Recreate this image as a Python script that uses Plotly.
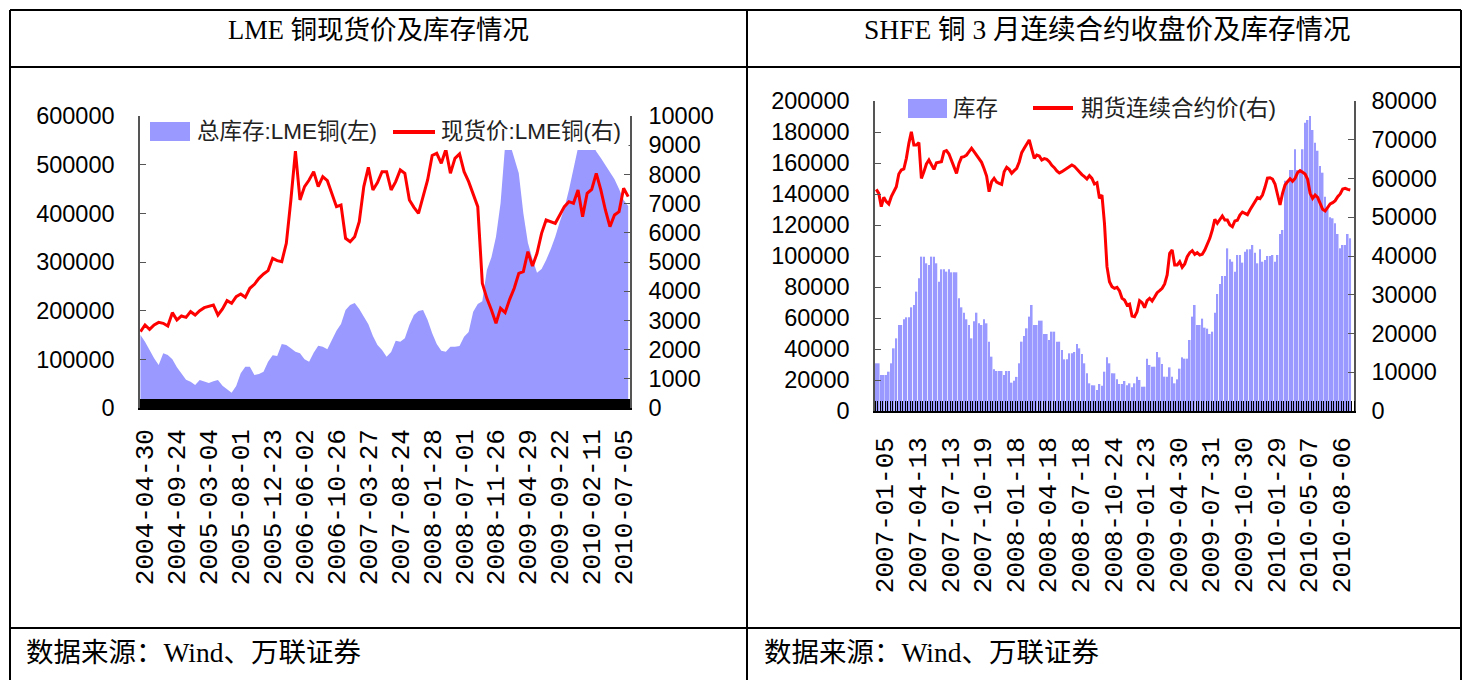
import plotly.graph_objects as go

# ---------------- data ----------------
# Left chart: LME copper, sampled every ~3 weeks; a date label every 7 samples
lme_labels = ['2004-04-30', '2004-09-24', '2005-03-04', '2005-08-01', '2005-12-23',
              '2006-06-02', '2006-10-26', '2007-03-27', '2007-08-24', '2008-01-28',
              '2008-07-01', '2008-11-26', '2009-04-29', '2009-09-22', '2010-02-11',
              '2010-07-05']
lme_stock = [150000, 136300, 119200, 102100, 88400, 112400, 108900, 100000, 83600, 69900,
             58200, 54100, 47300, 57500, 54100, 51400, 54800, 57500, 45900, 39000,
             31500, 45000, 71200, 84900, 84900, 67800, 69900, 74700, 95200, 108200,
             106900, 131500, 129500, 122600, 115800, 112400, 100000, 95200, 113700, 128100,
             126100, 120600, 141100, 158900, 172600, 201400, 211700, 215800, 203400, 186300,
             171900, 148000, 129500, 119200, 105500, 115100, 138400, 136300, 143200, 170600,
             191100, 199300, 201400, 180800, 153400, 131500, 117800, 115800, 126100, 126100,
             127400, 146600, 156200, 198000, 213700, 219200, 283600, 309600, 352100, 420600,
             540000, 545000, 513100, 482300, 400100, 339800, 306200, 278100, 285600, 304100,
             326100, 352100, 382900, 410300, 448000, 492500, 535000, 550000, 555000, 545000,
             526800, 513800, 498700, 485000, 469900, 450000, 427400, 415100]
lme_price = [2614, 2843, 2694, 2843, 2934, 2900, 2808, 3265, 3014, 3151,
             3105, 3299, 3185, 3333, 3436, 3470, 3528, 3185, 3391, 3676,
             3585, 3813, 3905, 3790, 4099, 4236, 4441, 4590, 4704, 5126,
             5046, 5012, 5640, 7124, 8800, 7124, 7581, 7809, 8095, 7581,
             7923, 7786, 7352, 6896, 6953, 5811, 5697, 5868, 6382, 7581,
             8243, 7467, 7718, 8095, 8095, 7467, 7752, 8152, 8037, 7124,
             6873, 6668, 7238, 7809, 8650, 8722, 8380, 8850, 8037, 8551,
             8700, 8095, 7752, 7329, 6896, 4270, 3756, 3357, 2900, 3413,
             3265, 3722, 4099, 4612, 4669, 5355, 4864, 5297, 5982, 6439,
             6382, 6325, 6610, 6896, 7067, 7010, 7467, 6553, 7352, 7489,
             8037, 7467, 6782, 6211, 6610, 6725, 7524, 7238]

# Right chart: SHFE copper, weekly; a date label every 13 weeks
shfe_labels = ['2007-01-05', '2007-04-13', '2007-07-13', '2007-10-19', '2008-01-18',
               '2008-04-18', '2008-07-18', '2008-10-24', '2009-01-23', '2009-04-30',
               '2009-07-31', '2009-10-30', '2010-01-29', '2010-05-07', '2010-08-06']
shfe_stock = [30760, 30760, 23230, 23230, 23230, 25370, 30760, 40430, 46880, 55490,
              55490, 59150, 60440, 60440, 66890, 68390, 77000, 85600, 99580, 99580,
              95280, 94200, 99580, 99580, 95280, 83440, 91410, 91410, 89900, 91410,
              89470, 89470, 89470, 72700, 66890, 63430, 59150, 55490, 46880, 57850,
              63430, 56560, 55490, 59150, 56560, 44730, 35050, 26880, 25810, 25810,
              25810, 23230, 25810, 25810, 18280, 19570, 22000, 30760, 44730, 48390,
              53340, 60870, 68390, 55490, 55490, 58290, 58290, 49680, 49680, 45810,
              51180, 51180, 44730, 44730, 39350, 33330, 33330, 37200, 37200, 38060,
              43220, 40430, 36770, 30760, 24300, 17850, 16560, 16560, 13550, 17420,
              16350, 25370, 34620, 30760, 24300, 24300, 20430, 17420, 17420, 19350,
              16560, 17850, 15270, 17850, 22160, 20000, 15700, 15700, 33760, 29680,
              28600, 28600, 38060, 34620, 30320, 22160, 22160, 28170, 22160, 17850,
              20430, 27310, 34620, 33760, 33760, 45810, 60870, 68390, 55490, 55490,
              59580, 53770, 53120, 49680, 51180, 63430, 75470, 81920, 87080, 87080,
              104930, 97830, 96330, 89900, 100650, 100650, 95710, 102800, 104290, 104290,
              107090, 102150, 95280, 104290, 96330, 97400, 99990, 99990, 100650, 96330,
              100650, 114200, 116790, 148620, 148620, 155500, 155500, 168860, 155500, 155500,
              168860, 186010, 187750, 190330, 181300, 173110, 167950, 158070, 153750, 138270,
              130530, 124970, 124330, 121100, 114200, 104970, 107100, 107100, 114200, 111420]
shfe_price = [57200, 56170, 52730, 55140, 54020, 53420, 55310, 56600, 57890, 61160,
              62190, 62450, 65200, 69070, 72080, 68640, 68640, 69250, 60040, 61760,
              63740, 64770, 63480, 62360, 64080, 64170, 64340, 66920, 67180, 66320,
              64770, 63050, 61330, 63910, 65460, 65630, 66060, 66920, 67780, 66920,
              65970, 65200, 64170, 62540, 60640, 56600, 59180, 60040, 59100, 58750,
              58490, 61760, 62880, 62360, 61330, 62020, 62620, 64260, 66670, 67780,
              69070, 69940, 67520, 65200, 66060, 65810, 64770, 65120, 64940, 64340,
              63390, 62800, 61930, 61420, 61760, 62190, 62620, 63050, 63480, 63140,
              62360, 61850, 61000, 60470, 59870, 60730, 60040, 58580, 58920, 54880,
              55740, 48430, 37250, 33370, 32090, 31650, 31910, 30970, 29080, 28640,
              27350, 27610, 24520, 24340, 25630, 28470, 27950, 26660, 28470, 29080,
              28390, 29420, 30540, 31050, 31650, 32770, 35100, 40690, 41550, 37680,
              37680, 38540, 37080, 37930, 39830, 40860, 41370, 40430, 40860, 40260,
              40430, 41550, 43010, 44560, 46710, 49470, 48430, 49290, 50320, 49290,
              49290, 48000, 47570, 49030, 49210, 50580, 51350, 51010, 50670, 51870,
              52990, 53760, 55050, 54790, 55740, 57720, 60130, 60210, 59870, 58580,
              56170, 53160, 56170, 58320, 59180, 59950, 59270, 60040, 61500, 62020,
              61590, 61160, 59790, 56170, 54880, 55740, 55140, 53420, 52040, 51610,
              52560, 53420, 53760, 54280, 55310, 56000, 57290, 57460, 57200, 57030]

left_titles = ['LME 铜现货价及库存情况', '数据来源：Wind、万联证券']
right_titles = ['SHFE 铜 3 月连续合约收盘价及库存情况', '数据来源：Wind、万联证券']
lme_names = ['总库存:LME铜(左)', '现货价:LME铜(右)']
shfe_names = ['库存', '期货连续合约价(右)']

# ---------------- helpers ----------------
W, H = 1463, 680
def px(x):
    return x / W
def py(y):
    return 1 - y / H

BLUE = '#9999FF'
RED = '#FF0000'
AXC = '#555555'
NUM_FONT = dict(family='Liberation Sans, Arial, sans-serif', size=23.5, color='black')
DATE_FONT = dict(family='Liberation Mono, monospace', size=26, color='black')
CJK_FONT = dict(family='Liberation Sans, Noto Sans CJK SC, sans-serif', size=22.5, color='#222222')
TITLE_L_FONT = dict(family='Liberation Serif, Noto Sans CJK SC, serif', size=26.5, color='black')
TITLE_R_FONT = dict(family='Liberation Serif, Noto Sans CJK SC, serif', size=27.5, color='black')
SRC_FONT = dict(family='Liberation Serif, Noto Sans CJK SC, serif', size=27.5, color='black')

lme_x = list(range(-1, len(lme_stock) - 1))
shfe_x = list(range(len(shfe_stock)))
LME_EVERY = 7
SHFE_EVERY = 13

fig = go.Figure()
fig.add_trace(go.Scatter(x=lme_x, y=lme_stock, name=lme_names[0], mode='lines',
                         line=dict(width=0, color=BLUE), fill='tozeroy', fillcolor=BLUE,
                         xaxis='x', yaxis='y', showlegend=False))
fig.add_trace(go.Scatter(x=lme_x, y=lme_price, name=lme_names[1], mode='lines',
                         line=dict(width=3, color=RED), xaxis='x', yaxis='y2', showlegend=False))
fig.add_trace(go.Bar(x=shfe_x, y=shfe_stock, name=shfe_names[0], marker=dict(color=BLUE, line=dict(width=0)),
                     xaxis='x2', yaxis='y3', showlegend=False))
fig.add_trace(go.Scatter(x=shfe_x, y=shfe_price, name=shfe_names[1], mode='lines',
                         line=dict(width=3, color=RED), xaxis='x2', yaxis='y4', showlegend=False))

yax = dict(showgrid=False, zeroline=False, showline=True, linecolor=AXC, linewidth=1.5,
           ticks='inside', ticklen=6, tickcolor=AXC, tickfont=NUM_FONT, tickformat='d',
           automargin=False)
xax = dict(showgrid=False, zeroline=False, showline=True, linecolor='black', linewidth=1.5,
           ticks='', tickmode='array', tickangle=-90, tickfont=DATE_FONT, automargin=False)

fig.update_layout(
    width=W, height=H, margin=dict(l=0, r=0, t=0, b=0, pad=0, autoexpand=False),
    paper_bgcolor='white', plot_bgcolor='white', bargap=0.35,
    xaxis=dict(xax, domain=[px(140), px(630)], range=[-1.1, 106.4], anchor='y',
               tickvals=[i * LME_EVERY for i in range(len(lme_labels))], ticktext=lme_labels,
               ticklabelstandoff=9,
               minor=dict(ticks='inside', ticklen=9, tickwidth=1, tickcolor='black',
                          tickmode='linear', tick0=-1.1, dtick=0.2, showgrid=False)),
    yaxis=dict(yax, domain=[py(408), py(116)], range=[0, 600000], dtick=100000,
               anchor='x', ticklabelstandoff=19),
    yaxis2=dict(yax, domain=[py(408), py(116)], range=[0, 10000], dtick=1000,
                anchor='x', overlaying='y', side='right', ticklabelstandoff=12),
    xaxis2=dict(xax, domain=[px(875), px(1354)], range=[-0.5, 190.5], anchor='y3',
                tickvals=[3.5 + i * SHFE_EVERY for i in range(len(shfe_labels))], ticktext=shfe_labels,
                ticklabelstandoff=14,
                minor=dict(ticks='inside', ticklen=10, tickwidth=1, tickcolor='black',
                           tickmode='linear', tick0=0.5, dtick=1, showgrid=False)),
    yaxis3=dict(yax, domain=[py(411), py(101)], range=[0, 200000], dtick=20000,
                anchor='x2', ticklabelstandoff=19),
    yaxis4=dict(yax, domain=[py(411), py(101)], range=[0, 80000], dtick=10000,
                anchor='x2', overlaying='y3', side='right', ticklabelstandoff=11),
)

shapes = []
# white legend box in the left chart (hides the top strip of the plot area)
shapes.append(dict(type='rect', xref='paper', yref='paper', x0=px(141.5), x1=px(628.5),
                   y0=py(150), y1=py(112), fillcolor='white', line=dict(width=0), layer='above'))
# legend swatches
shapes.append(dict(type='rect', xref='paper', yref='paper', x0=px(150), x1=px(190),
                   y0=py(141), y1=py(122), fillcolor=BLUE, line=dict(width=0), layer='above'))
shapes.append(dict(type='line', xref='paper', yref='paper', x0=px(393), x1=px(435),
                   y0=py(132), y1=py(132), line=dict(color=RED, width=4), layer='above'))
shapes.append(dict(type='rect', xref='paper', yref='paper', x0=px(908), x1=px(947),
                   y0=py(118), y1=py(99), fillcolor=BLUE, line=dict(width=0), layer='above'))
shapes.append(dict(type='line', xref='paper', yref='paper', x0=px(1033), x1=px(1073),
                   y0=py(108), y1=py(108), line=dict(color=RED, width=4), layer='above'))
# table frame
frame = dict(color='black', width=2)
for yy in (10, 67, 628):
    shapes.append(dict(type='line', xref='paper', yref='paper', x0=px(10), x1=px(1461),
                       y0=py(yy), y1=py(yy), line=frame, layer='above'))
for xx in (10, 747, 1461):
    shapes.append(dict(type='line', xref='paper', yref='paper', x0=px(xx), x1=px(xx),
                       y0=0, y1=py(10), line=frame, layer='above'))

annotations = [
    dict(text=left_titles[0], x=px(378), y=py(30), xanchor='center', yanchor='middle', font=TITLE_L_FONT),
    dict(text=right_titles[0], x=px(1107), y=py(30), xanchor='center', yanchor='middle', font=TITLE_R_FONT),
    dict(text=left_titles[1], x=px(24), y=py(652), xanchor='left', yanchor='middle', font=SRC_FONT),
    dict(text=right_titles[1], x=px(762), y=py(652), xanchor='left', yanchor='middle', font=SRC_FONT),
    dict(text=lme_names[0], x=px(195), y=py(132), xanchor='left', yanchor='middle', font=CJK_FONT),
    dict(text=lme_names[1], x=px(439), y=py(132), xanchor='left', yanchor='middle', font=CJK_FONT),
    dict(text=shfe_names[0], x=px(951), y=py(108), xanchor='left', yanchor='middle', font=CJK_FONT),
    dict(text=shfe_names[1], x=px(1079), y=py(108), xanchor='left', yanchor='middle', font=CJK_FONT),
]
for a in annotations:
    a.update(xref='paper', yref='paper', showarrow=False)

fig.update_layout(shapes=shapes, annotations=annotations)

reset_page = ("var s=document.createElement('style');"
              "s.textContent='html,body{margin:0!important;padding:0!important;overflow:hidden;}';"
              "document.head.appendChild(s);")
fig.write_html('out.html', config={'displayModeBar': False}, post_script=reset_page)
